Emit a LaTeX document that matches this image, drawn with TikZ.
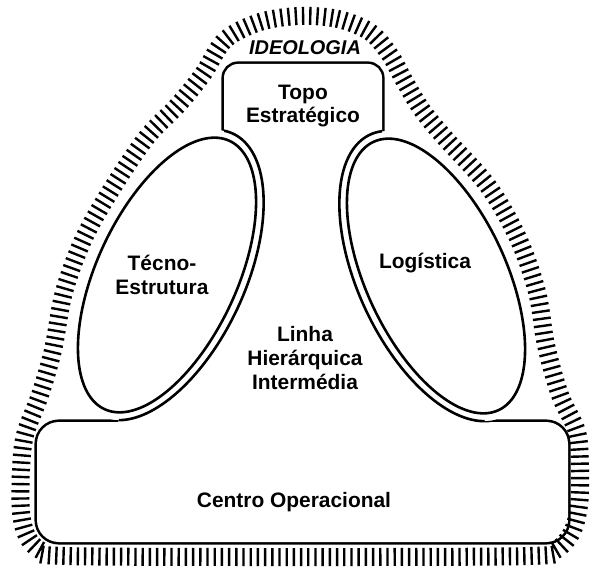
\documentclass[tikz,border=0pt]{standalone}
\usepackage{fontspec}
\setmainfont{Liberation Sans}
\usetikzlibrary{decorations.pathreplacing}
\begin{document}
\begin{tikzpicture}[x=1bp,y=-1bp,
  lbl/.style={font=\bfseries\fontsize{21}{24}\selectfont, align=center, inner sep=0pt},
  outl/.style={line width=2.6bp, line join=round},
  hatch/.style={decorate, decoration={ticks, segment length=7.2bp, amplitude=9bp}, line width=2.4bp}]
\useasboundingbox (0,0) rectangle (590,570);
% union outline (top box, neck, bottom box) outside the enlarged ellipses
\begin{scope}[even odd rule]
\clip (-20,-20) rectangle (610,590)
  plot[domain=0:360,samples=160] ({167+78*cos(\x)*0.9063+156*sin(\x)*0.4226},{275+78*cos(\x)*0.4226-156*sin(\x)*0.9063}) -- cycle
  plot[domain=0:360,samples=160] ({436+78*cos(\x)*0.9063-156*sin(\x)*0.4226},{276-78*cos(\x)*0.4226-156*sin(\x)*0.9063}) -- cycle;
\draw[line width=5.2bp, rounded corners=14bp] (224,150) -- (224,64) -- (382,64) -- (382,150) -- cycle;
\draw[line width=5.2bp] (115,430) -- (240,90) -- (366,90) -- (488,430) -- cycle;
\draw[line width=5.2bp, rounded corners=22bp] (37,542) -- (37,422) -- (568,422) -- (568,542) -- cycle;
\fill[white, rounded corners=14bp] (224,150) -- (224,64) -- (382,64) -- (382,150) -- cycle;
\fill[white] (115,430) -- (240,90) -- (366,90) -- (488,430) -- cycle;
\fill[white, rounded corners=22bp] (37,542) -- (37,422) -- (568,422) -- (568,542) -- cycle;
\end{scope}
% enlarged ellipse arcs inside the union
\begin{scope}
\clip (224,150) -- (224,64) -- (382,64) -- (382,150) -- cycle
  (115,430) -- (240,90) -- (366,90) -- (488,430) -- cycle
  (37,542) -- (37,422) -- (568,422) -- (568,542) -- cycle;
\draw[outl] plot[domain=0:360,samples=160] ({167+78*cos(\x)*0.9063+156*sin(\x)*0.4226},{275+78*cos(\x)*0.4226-156*sin(\x)*0.9063}) -- cycle;
\draw[outl] plot[domain=0:360,samples=160] ({436+78*cos(\x)*0.9063-156*sin(\x)*0.4226},{276-78*cos(\x)*0.4226-156*sin(\x)*0.9063}) -- cycle;
\end{scope}
% the two ellipses
\draw[outl] plot[domain=0:360,samples=160] ({167+70*cos(\x)*0.9063+148*sin(\x)*0.4226},{275+70*cos(\x)*0.4226-148*sin(\x)*0.9063}) -- cycle;
\draw[outl] plot[domain=0:360,samples=160] ({436+70*cos(\x)*0.9063-148*sin(\x)*0.4226},{276-70*cos(\x)*0.4226-148*sin(\x)*0.9063}) -- cycle;
% ideology hatching
\draw[hatch] plot[smooth cycle, tension=0.55] coordinates {
 (300,16) (338,19) (370,32) (390,55) (405,82) (422,110) (445,138) (488,186) (518,238)
 (537,292) (546,345) (560,395) (577,432) (580,470) (579,505) (572,532) (556,550) (530,556)
 (300,557) (65,556) (40,550) (27,536) (21,512) (21,470) (25,435) (40,395) (53,350) (64,292)
 (84,238) (113,187) (147,137) (178,105) (203,74) (225,40) (260,22)};
% labels
\node[lbl, font=\bfseries\itshape\fontsize{20}{24}\selectfont] (ideo) at (305,48) {IDEOLOGIA};
\node[lbl] (topo) at (303,106) {Topo\\Estratégico};
\node[lbl] (tecno) at (162,275) {Técno-\\Estrutura};
\node[lbl] (logi) at (425,263) {Logística};
\node[lbl] (linha) at (305,358) {Linha\\Hierárquica\\Intermédia};
\node[lbl] (centro) at (294,502) {Centro Operacional};
\end{tikzpicture}
\end{document}
